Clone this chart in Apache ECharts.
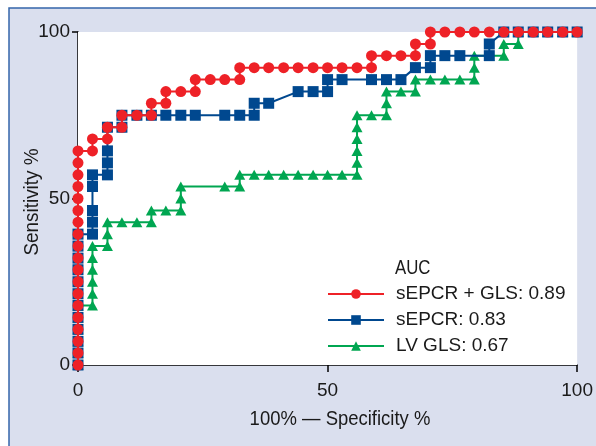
<!DOCTYPE html>
<html><head><meta charset="utf-8">
<script src="https://cdn.jsdelivr.net/npm/echarts@6/dist/echarts.min.js"></script>
<style>html,body{margin:0;padding:0;background:#fff}#c{width:596px;height:446px}</style>
</head><body><div id="c"></div>
<script>
const FONT = "'Liberation Sans Narrow','Arial Narrow','Liberation Sans',Arial,sans-serif";
const xTicks = [0, 50, 100];
const yTicks = [0, 50, 100];
const xTitle = '100% \u2014 Specificity %';
const yTitle = 'Sensitivity %';
const legendTitle = 'AUC';
const names = ['sEPCR + GLS: 0.89', 'sEPCR: 0.83', 'LV GLS: 0.67'];

// sEPCR + GLS (1 - specificity %, sensitivity %)
const redX = [0,0,0,0,0,0,0,0,0,0,0,0,0,0,0,0,0,0,0,
  2.9,2.9,5.9,5.9,8.8,8.8,11.8,14.7,14.7,17.6,17.6,20.6,23.5,23.5,26.5,29.4,32.4,32.4,
  35.3,38.2,41.2,44.1,47.1,50,52.9,55.9,58.8,58.8,61.8,64.7,67.6,67.6,70.6,70.6,
  73.5,76.5,79.4,82.4,85.3,88.2,91.2,94.1,97.1,100];
const redY = [0,3.6,7.1,10.7,14.3,17.9,21.4,25,28.6,32.1,35.7,39.3,42.9,46.4,50,53.6,57.1,60.7,64.3,
  64.3,67.9,67.9,71.4,71.4,75,75,75,78.6,78.6,82.1,82.1,82.1,85.7,85.7,85.7,85.7,89.3,
  89.3,89.3,89.3,89.3,89.3,89.3,89.3,89.3,89.3,92.9,92.9,92.9,92.9,96.4,96.4,100,
  100,100,100,100,100,100,100,100,100,100];

// sEPCR
const blueX = [0,0,0,0,0,0,0,0,0,0,0,0,
  2.9,2.9,2.9,2.9,2.9,5.9,5.9,5.9,5.9,8.8,8.8,11.8,14.7,17.6,20.6,23.5,29.4,32.4,35.3,35.3,38.2,
  44.1,47.1,50,50,52.9,58.8,61.8,64.7,67.6,70.6,70.6,73.5,76.5,82.4,82.4,
  85.3,88.2,91.2,94.1,97.1,100];
const blueY = [0,3.6,7.1,10.7,14.3,17.9,21.4,25,28.6,32.1,35.7,39.3,
  39.3,42.9,46.4,53.6,57.1,57.1,60.7,64.3,71.4,71.4,75,75,75,75,75,75,75,75,75,78.6,78.6,
  82.1,82.1,82.1,85.7,85.7,85.7,85.7,85.7,89.3,89.3,92.9,92.9,92.9,92.9,96.4,
  100,100,100,100,100,100];

// LV GLS
const greenX = [0,0,0,0,0,0,
  2.9,2.9,2.9,2.9,2.9,2.9,5.9,5.9,5.9,8.8,11.8,14.7,14.7,17.6,20.6,20.6,20.6,29.4,32.4,32.4,
  35.3,38.2,41.2,44.1,47.1,50,52.9,55.9,55.9,55.9,55.9,55.9,55.9,58.8,61.8,61.8,61.8,64.7,67.6,67.6,
  70.6,73.5,76.5,79.4,79.4,79.4,82.4,85.3,85.3,88.2,88.2,91.2,94.1,97.1,100];
const greenY = [0,3.6,7.1,10.7,14.3,17.9,
  17.9,21.4,25,28.6,32.1,35.7,35.7,39.3,42.9,42.9,42.9,42.9,46.4,46.4,46.4,50,53.6,53.6,53.6,57.1,
  57.1,57.1,57.1,57.1,57.1,57.1,57.1,57.1,60.7,64.3,67.9,71.4,75,75,75,78.6,82.1,82.1,82.1,85.7,
  85.7,85.7,85.7,85.7,89.3,92.9,92.9,92.9,96.4,96.4,100,100,100,100,100];

const zip = (a, b) => a.map((v, i) => [v, b[i]]);
const RED = '#ee2127', BLUE = '#00488f', GREEN = '#00a651', TXT = '#1a1a1a';

const chart = echarts.init(document.getElementById('c'), null, {renderer: 'canvas'});
chart.setOption({
  backgroundColor: '#ffffff',
  animation: false,
  textStyle: {fontFamily: FONT},
  grid: {left: 78, right: 17.5, top: 32, bottom: 81, show: true, backgroundColor: '#ffffff', borderWidth: 0, z: 1},
  xAxis: {
    type: 'value', min: xTicks[0], max: xTicks[xTicks.length - 1], interval: xTicks[1] - xTicks[0],
    axisLine: {show: true, lineStyle: {color: '#000', width: 1.5}},
    axisTick: {show: true, length: 7, lineStyle: {color: '#000', width: 1.5}},
    axisLabel: {color: TXT, fontSize: 19, fontFamily: FONT, margin: 16},
    splitLine: {show: false}
  },
  yAxis: {
    type: 'value', min: yTicks[0], max: yTicks[yTicks.length - 1], interval: yTicks[1] - yTicks[0],
    axisLine: {show: true, lineStyle: {color: '#000', width: 1.5}},
    axisTick: {show: true, length: 6, lineStyle: {color: '#000', width: 1.5}},
    axisLabel: {color: TXT, fontSize: 19, fontFamily: FONT, margin: 8},
    splitLine: {show: false}
  },
  legend: {
    orient: 'vertical', left: 327, top: 284, padding: 0, itemWidth: 56, itemHeight: 12, itemGap: 6,
    data: names,
    textStyle: {color: TXT, fontSize: 19, fontFamily: FONT, lineHeight: 20, padding: [0, 0, 0, 7]}
  },
  graphic: [
    {type: 'rect', z: -10, shape: {x: 9, y: 8, width: 600, height: 450},
      style: {fill: '#dadfee', stroke: '#3566aa', lineWidth: 1.5}},
    {type: 'text', x: 395, y: 268, scaleX: 0.8, style: {text: legendTitle, fill: TXT, font: '21px ' + FONT, textAlign: 'left', textVerticalAlign: 'middle'}, z: 10},
    {type: 'text', x: 340, y: 419, scaleX: 0.88, style: {text: xTitle, fill: TXT, font: '21px ' + FONT, textAlign: 'center', textVerticalAlign: 'middle'}, z: 10},
    {type: 'text', x: 32, y: 202, rotation: Math.PI / 2, scaleX: 0.9, style: {text: yTitle, fill: TXT, font: '21px ' + FONT, textAlign: 'center', textVerticalAlign: 'middle'}, z: 10}
  ],
  series: [
    {name: names[2], type: 'line', data: zip(greenX, greenY), symbol: 'triangle', symbolSize: [11, 10],
      color: GREEN, lineStyle: {color: GREEN, width: 2}, itemStyle: {color: GREEN}, z: 3},
    {name: names[1], type: 'line', data: zip(blueX, blueY), symbol: 'rect', symbolSize: 11,
      color: BLUE, lineStyle: {color: BLUE, width: 2}, itemStyle: {color: BLUE}, z: 4},
    {name: names[0], type: 'line', data: zip(redX, redY), symbol: 'circle', symbolSize: 11,
      color: RED, lineStyle: {color: RED, width: 2}, itemStyle: {color: RED}, z: 5}
  ]
});
</script></body></html>
